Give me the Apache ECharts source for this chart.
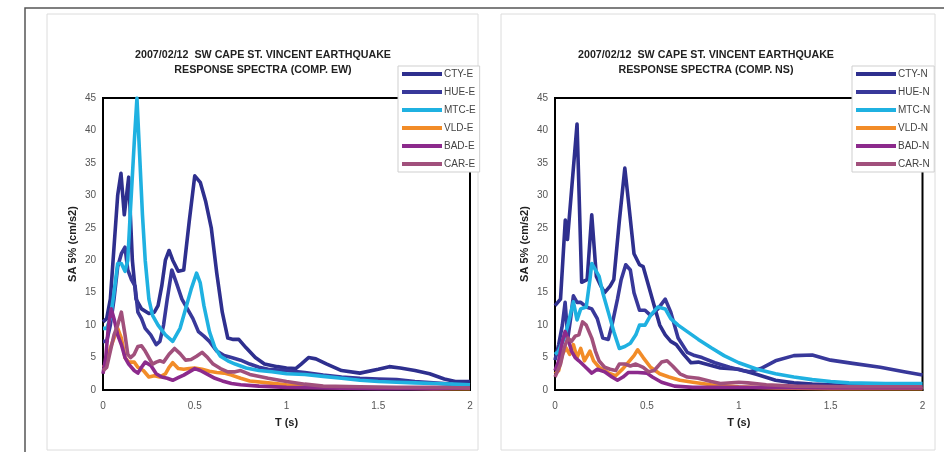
<!DOCTYPE html>
<html>
<head>
<meta charset="utf-8">
<script src="https://cdn.jsdelivr.net/npm/echarts@6/dist/echarts.min.js"></script>
<style>
html,body{margin:0;padding:0;background:#fff;}
#chart{width:944px;height:452px;}
</style>
</head>
<body>
<div id="chart"></div>
<script>
// ---------- Tick labels / titles ----------
const titleEW = '2007/02/12  SW CAPE ST. VINCENT EARTHQUAKE\nRESPONSE SPECTRA (COMP. EW)';
const titleNS = '2007/02/12  SW CAPE ST. VINCENT EARTHQUAKE\nRESPONSE SPECTRA (COMP. NS)';
const xAxisName = 'T (s)';
const yAxisName = 'SA 5% (cm/s2)';
const namesEW = ['CTY-E','HUE-E','MTC-E','VLD-E','BAD-E','CAR-E'];
const namesNS = ['CTY-N','HUE-N','MTC-N','VLD-N','BAD-N','CAR-N'];

// ---------- EW component (period T in s, SA in cm/s2) ----------
const ctyE_T  = [0,0.02,0.04,0.06,0.08,0.098,0.116,0.14,0.16,0.18,0.21,0.25,0.28,0.3,0.32,0.34,0.36,0.38,0.41,0.44,0.47,0.5,0.53,0.56,0.59,0.62,0.65,0.68,0.71,0.74,0.78,0.83,0.88,0.95,1.0,1.05,1.08,1.12,1.16,1.22,1.3,1.4,1.5,1.56,1.62,1.7,1.78,1.86,1.92,2.0];
const ctyE_SA = [10.5,11,14,22,30,33.4,27,32.8,20,14,12.5,11.8,12,13,16,20,21.5,20,18.3,18.5,26,33,32,29,25,18,12,8,7.8,7.8,6.5,5,4,3.6,3.4,3.3,4,5,4.8,4,3,2.6,3.2,3.6,3.4,3,2.5,1.7,1.3,1.3];

const hueE_T  = [0,0.02,0.04,0.06,0.08,0.1,0.12,0.135,0.155,0.175,0.19,0.21,0.23,0.26,0.29,0.31,0.33,0.35,0.375,0.4,0.43,0.46,0.49,0.52,0.55,0.58,0.62,0.66,0.7,0.75,0.8,0.85,0.9,1.0,1.1,1.2,1.3,1.4,1.5,1.6,1.7,1.8,1.9,2.0];
const hueE_SA = [7.5,7.5,10,14,19,21,22,18.5,17,16,12,11,9.5,8.5,7,7.5,10,14,18.5,16.5,14,12.5,11,9,8.3,7.5,6,5.3,5,4.6,4,3.5,3.2,3,2.7,2.3,2,1.8,1.7,1.6,1.3,1.1,0.9,0.8];

const mtcE_T  = [0,0.02,0.04,0.06,0.08,0.1,0.12,0.135,0.15,0.17,0.185,0.2,0.215,0.23,0.25,0.27,0.3,0.34,0.38,0.42,0.45,0.48,0.51,0.53,0.55,0.58,0.61,0.64,0.68,0.72,0.78,0.85,0.92,1.0,1.1,1.2,1.3,1.4,1.5,1.6,1.7,1.8,1.9,2.0];
const mtcE_SA = [9.5,9.5,11,15,19.5,19.5,18.3,20,28,38,45,36,27,20,14,11.5,10,8.5,7.5,9.5,12.5,15.5,18,16.5,13,9,6.5,5.2,4.5,4,3.4,3,2.8,2.5,2.4,2.1,1.8,1.5,1.3,1.2,1.1,1,0.9,0.8];

const vldE_T  = [0,0.02,0.04,0.06,0.08,0.1,0.12,0.14,0.17,0.19,0.22,0.25,0.28,0.31,0.34,0.36,0.38,0.41,0.44,0.47,0.5,0.54,0.58,0.62,0.66,0.7,0.75,0.8,0.9,1.0,1.1,1.2,1.4,1.6,1.8,2.0];
const vldE_SA = [3.5,4,6.5,8,9.5,8,5,4.3,4.3,3.5,3,2,2.2,2,2.5,3.5,4.2,3.3,3.2,3.3,3.4,3.2,2.9,2.7,2.6,2.3,1.8,1.4,1.1,0.8,0.6,0.5,0.3,0.3,0.2,0.2];

const badE_T  = [0,0.015,0.03,0.045,0.06,0.08,0.1,0.12,0.14,0.17,0.19,0.21,0.23,0.26,0.29,0.32,0.35,0.38,0.41,0.44,0.47,0.5,0.53,0.57,0.61,0.65,0.7,0.75,0.85,1.0,1.2,1.5,1.8,2.0];
const badE_SA = [2.5,5,10,12.5,11,8.5,7,5,4,3,2.6,3.5,4.3,3.8,2.5,2,1.8,1.5,1.9,2.3,2.8,3.3,3,2.4,1.8,1.4,1,0.8,0.6,0.4,0.3,0.2,0.2,0.3];

const carE_T  = [0,0.02,0.04,0.06,0.08,0.1,0.12,0.135,0.15,0.17,0.19,0.21,0.23,0.25,0.27,0.29,0.31,0.33,0.36,0.39,0.42,0.45,0.48,0.51,0.54,0.57,0.6,0.64,0.68,0.72,0.75,0.8,0.9,1.0,1.1,1.2,1.4,1.6,1.8,2.0];
const carE_SA = [3,3.5,6,8.5,10,12,8.5,5.5,5,5.5,6.7,6.8,6,5,4,4.3,4.5,4.3,5.5,6.4,5.6,4.6,4.7,5.2,5.8,5,4,3.3,2.8,2.8,3,2.4,1.8,1.3,0.9,0.6,0.5,0.4,0.4,0.3];

// ---------- NS component ----------
const ctyN_T  = [0,0.03,0.056,0.068,0.12,0.145,0.175,0.2,0.225,0.25,0.27,0.3,0.32,0.35,0.38,0.4,0.43,0.46,0.48,0.51,0.54,0.57,0.6,0.63,0.66,0.7,0.74,0.78,0.82,0.9,1.0,1.1,1.2,1.3,1.4,1.6,1.8,2.0];
const ctyN_SA = [13,14,26.2,23.2,41,16.6,17,27,17.5,16,15,16,17,26,34.2,29,21,19.3,19,16,13,10,8.5,7.5,7,5.5,4.2,4.3,4,3.4,3.2,2.4,1.5,1.1,0.9,0.7,0.6,0.5];

const hueN_T  = [0,0.02,0.04,0.055,0.07,0.085,0.1,0.12,0.14,0.17,0.2,0.23,0.26,0.29,0.31,0.34,0.36,0.385,0.41,0.43,0.46,0.49,0.52,0.56,0.6,0.63,0.67,0.72,0.76,0.8,0.87,0.95,1.02,1.06,1.12,1.2,1.3,1.4,1.5,1.62,1.77,1.9,2.0];
const hueN_SA = [4.6,7,10,13.5,8,11,14.5,13.5,13.5,12.8,12.5,11,8,7.8,10,14,17,19.3,18.5,15,12.3,12.3,11.5,12.5,14,12,8,5.8,5.3,5,4.2,3.5,3,2.8,3.3,4.5,5.3,5.4,4.6,4.1,3.5,2.8,2.3];

const mtcN_T  = [0,0.02,0.05,0.07,0.1,0.12,0.14,0.17,0.19,0.2,0.22,0.24,0.26,0.29,0.32,0.35,0.38,0.41,0.44,0.46,0.49,0.52,0.56,0.6,0.63,0.67,0.72,0.78,0.85,0.92,1.0,1.1,1.2,1.3,1.4,1.5,1.6,1.8,2.0];
const mtcN_SA = [5.5,6,8,10,13.6,10.8,12.5,12.8,17,19.5,18.5,17.5,15,12,9,6.4,6.7,7.2,8.5,10,10,11.5,12.8,12.5,11,10,9,7.8,6.5,5.3,4.2,3.2,2.5,2,1.6,1.3,1.1,1,1];

const vldN_T  = [0,0.02,0.04,0.06,0.08,0.1,0.12,0.14,0.16,0.19,0.21,0.24,0.27,0.3,0.33,0.37,0.4,0.43,0.45,0.48,0.52,0.57,0.62,0.68,0.75,0.85,1.0,1.2,1.5,2.0];
const vldN_SA = [2.5,3,5.5,6.5,5.5,7,5,6.4,4.5,6,4.5,3.5,3,2.5,2.2,3.3,4.3,5.3,6.2,5,3.5,2.5,2,1.5,1.2,0.8,0.5,0.3,0.2,0.2];

const badN_T  = [0,0.02,0.04,0.055,0.07,0.09,0.11,0.13,0.16,0.2,0.23,0.27,0.31,0.34,0.37,0.4,0.45,0.5,0.53,0.58,0.65,0.75,0.9,1.0,1.5,2.0];
const badN_SA = [3,4.5,7.5,9,8,6,5,4.5,3.7,2.6,3.2,2.8,2,1.5,2,2.7,2.7,2.6,2,1.2,0.6,0.4,0.4,0.4,0.3,0.3];

const carN_T  = [0,0.03,0.05,0.07,0.09,0.11,0.13,0.15,0.17,0.18,0.2,0.22,0.24,0.27,0.3,0.33,0.35,0.38,0.41,0.44,0.48,0.51,0.54,0.58,0.61,0.64,0.68,0.72,0.78,0.85,0.9,1.0,1.05,1.15,1.3,1.6,2.0];
const carN_SA = [2,4,6.5,8,7.5,8.3,8.5,10.5,10,10.3,8,6,4.5,3.5,3.2,3,4,4,3.7,4,3.5,2.8,3,4.3,4.5,3.7,2.5,2,1.8,1.3,1,1.2,1.1,0.8,0.6,0.5,0.5];

// ---------- styling ----------
const colors = ['#2e2f8e','#38389a','#1fb1e1','#f28c28','#8c2a8c','#a1507c'];
const FONT = '"Liberation Sans", Arial, sans-serif';

function pairs(T, SA){ return T.map((t,i)=>[t, SA[i]]); }

const ewData = [pairs(ctyE_T,ctyE_SA),pairs(hueE_T,hueE_SA),pairs(mtcE_T,mtcE_SA),pairs(vldE_T,vldE_SA),pairs(badE_T,badE_SA),pairs(carE_T,carE_SA)];
const nsData = [pairs(ctyN_T,ctyN_SA),pairs(hueN_T,hueN_SA),pairs(mtcN_T,mtcN_SA),pairs(vldN_T,vldN_SA),pairs(badN_T,badN_SA),pairs(carN_T,carN_SA)];

function xAx(gi){
  return {
    gridIndex: gi, type:'value', min:0, max:2, interval:0.5,
    name: xAxisName, nameLocation:'middle', nameGap:27,
    nameTextStyle:{fontFamily:FONT,fontSize:11,fontWeight:'bold',color:'#222'},
    axisLine:{show:true,lineStyle:{color:'#000',width:2}},
    axisTick:{show:false},
    splitLine:{show:false},
    axisLabel:{fontFamily:FONT,fontSize:10,color:'#555',margin:11}
  };
}
function yAx(gi){
  return {
    gridIndex: gi, type:'value', min:0, max:45, interval:5,
    name: yAxisName, nameLocation:'middle', nameGap:25, nameRotate:90,
    nameTextStyle:{fontFamily:FONT,fontSize:11,fontWeight:'bold',color:'#222'},
    axisLine:{show:true,lineStyle:{color:'#000',width:2}},
    axisTick:{show:false},
    splitLine:{show:false},
    axisLabel:{fontFamily:FONT,fontSize:10,color:'#555',margin:7}
  };
}
function mkSeries(names, data, gi){
  return names.map((n,i)=>({
    name:n, type:'line', xAxisIndex:gi, yAxisIndex:gi,
    data:data[i], showSymbol:false, symbol:'none', smooth:false,
    lineStyle:{color:colors[i], width:3.6, join:'round'},
    itemStyle:{color:colors[i]},
    animation:false, z: 2
  }));
}
function mkLegend(names, left){
  return {
    data:names, orient:'vertical', left:left, top:66,
    icon:'rect', itemWidth:40, itemHeight:4, itemGap:8,
    padding:[3,4,3,4],
    backgroundColor:'#fff', borderColor:'#cfcfcf', borderWidth:1,
    textStyle:{fontFamily:FONT,fontSize:10,color:'#444',padding:[0,0,0,-3]},
    selectedMode:false
  };
}

const chart = echarts.init(document.getElementById('chart'), null, {renderer:'canvas'});
chart.setOption({
  backgroundColor:'#fff',
  animation:false,
  title:[
    {text:titleEW,left:263,top:48,textAlign:'center',padding:0,
     textStyle:{fontFamily:FONT,fontSize:10.7,fontWeight:'bold',color:'#222',lineHeight:15}},
    {text:titleNS,left:706,top:48,textAlign:'center',padding:0,
     textStyle:{fontFamily:FONT,fontSize:10.7,fontWeight:'bold',color:'#222',lineHeight:15}}
  ],
  graphic:[
    {type:'polyline',silent:true,shape:{points:[[25,452],[25,8],[944,8]]},style:{stroke:'#555',lineWidth:1.5,fill:null}},
    {type:'rect',silent:true,shape:{x:47,y:14,width:431,height:436},style:{stroke:'#dcdcdc',lineWidth:1,fill:null}},
    {type:'rect',silent:true,shape:{x:501,y:14,width:434,height:436},style:{stroke:'#dcdcdc',lineWidth:1,fill:null}}
  ],
  legend:[mkLegend(namesEW,398), mkLegend(namesNS,852)],
  grid:[
    {left:103,top:98,width:367,height:292,show:true,borderColor:'#000',borderWidth:2,backgroundColor:'transparent',containLabel:false},
    {left:555,top:98,width:367.5,height:292,show:true,borderColor:'#000',borderWidth:2,backgroundColor:'transparent',containLabel:false}
  ],
  xAxis:[xAx(0), xAx(1)],
  yAxis:[yAx(0), yAx(1)],
  series:[...mkSeries(namesEW, ewData, 0), ...mkSeries(namesNS, nsData, 1)]
});
</script>
</body>
</html>
